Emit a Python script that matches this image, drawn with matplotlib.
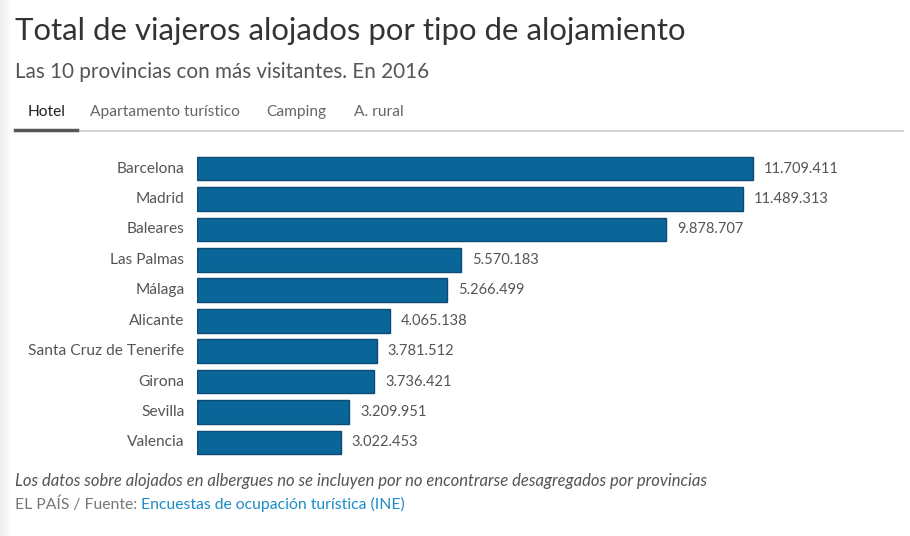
import numpy as np
import matplotlib.pyplot as plt

plt.rcParams['font.family'] = ['Lato', 'DejaVu Sans']

provincias = ['Barcelona', 'Madrid', 'Baleares', 'Las Palmas', 'Málaga', 'Alicante',
              'Santa Cruz de Tenerife', 'Girona', 'Sevilla', 'Valencia']
viajeros = [11709411, 11489313, 9878707, 5570183, 5266499, 4065138,
            3781512, 3736421, 3209951, 3022453]
pestanas = ['Hotel', 'Apartamento turístico', 'Camping', 'A. rural']

W, H = 910, 536
fig = plt.figure(figsize=(W / 100, H / 100), dpi=100)

def fx(px):
    return px / W

def fy(py):
    return 1 - py / H

# sombra suave en el borde izquierdo
sombra = fig.add_axes([0, 0, fx(12), 1])
grad = np.linspace(0.93, 1.0, 50).reshape(1, -1)
sombra.imshow(grad, cmap='gray', vmin=0, vmax=1, aspect='auto', extent=[0, 1, 0, 1])
sombra.axis('off')

# titulo y subtitulo
fig.text(fx(15), fy(31), 'Total de viajeros alojados por tipo de alojamiento',
         fontsize=22.4, color='#333333', va='center', ha='left')
fig.text(fx(15), fy(72), 'Las 10 provincias con más visitantes. En 2016',
         fontsize=14.9, color='#555555', va='center', ha='left')

# pestañas
pos_pestanas = [28, 90, 266, 354]
for i, (p, x) in enumerate(zip(pestanas, pos_pestanas)):
    fig.text(fx(x), fy(112), p, fontsize=11.2, va='center', ha='left',
             color='#222222' if i == 0 else '#666666')
fig.add_artist(plt.Line2D([fx(15), fx(903)], [fy(131), fy(131)], color='#cccccc', lw=1.2))
fig.add_artist(plt.Line2D([fx(15), fx(77)], [fy(129.5), fy(129.5)], color='#555555', lw=2.5))

# barras
ax_izq, ax_der = 197, 897
top, bottom = 153.3, 457.7
ax = fig.add_axes([fx(ax_izq), fy(bottom), fx(ax_der - ax_izq), fy(top) - fy(bottom)])
xmax = max(viajeros) * (ax_der - ax_izq) / 556
y = np.arange(len(provincias))
ax.barh(y, viajeros, height=0.78, color='#0a6699', edgecolor='#0a4a75', linewidth=1)
ax.set_xlim(0, xmax)
ax.set_ylim(len(provincias) - 0.5, -0.5)
ax.axis('off')

for yi, v, nombre in zip(y, viajeros, provincias):
    ax.annotate(f'{v:,}'.replace(',', '.'), (v, yi), xytext=(8, 0), textcoords='offset points',
                va='center', ha='left', fontsize=10.5, color='#555555')
    ax.annotate(nombre, (0, yi), xytext=(-9, 0), textcoords='offset points',
                va='center', ha='right', fontsize=11.2, color='#555555')

# pie
fig.text(fx(15), fy(481), 'Los datos sobre alojados en albergues no se incluyen por no encontrarse desagregados por provincias',
         fontsize=12, style='italic', color='#555555', va='center', ha='left')
t = fig.text(fx(15), fy(504), 'EL PAÍS / Fuente: ', fontsize=11.3, color='#777777', va='center', ha='left')
fig.canvas.draw()
bb = t.get_window_extent()
fig.text(bb.x1 / W, fy(504), 'Encuestas de ocupación turística (INE)',
         fontsize=11.3, color='#1a8cc8', va='center', ha='left')

fig.savefig('out.png', dpi=100)
